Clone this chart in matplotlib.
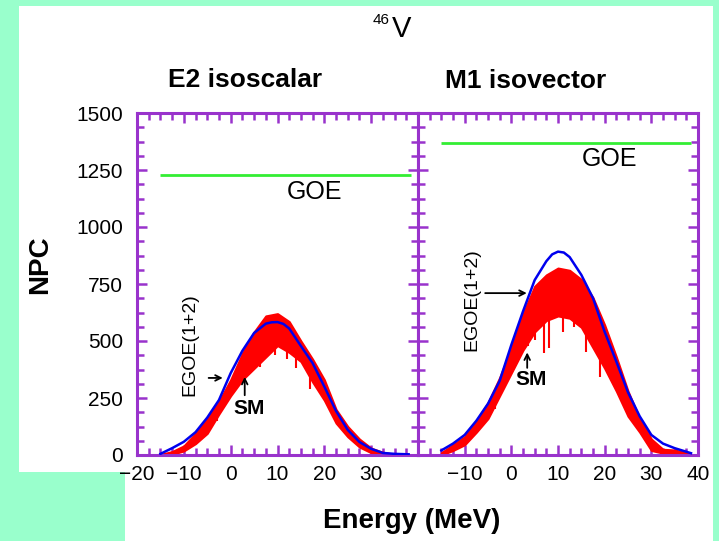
import matplotlib.pyplot as plt
import numpy as np
from matplotlib.patches import Polygon
from matplotlib.ticker import MultipleLocator

plt.rcParams['font.family'] = ['Liberation Sans', 'DejaVu Sans']

W, H = 719, 541
purple = '#9933cc'

# E2 isoscalar panel
e2_x = [-15, -12.5, -10, -7.5, -5, -2.5, 0, 2.5, 5, 7.5, 8.75, 10, 11.25,
        12.5, 15, 17.5, 20, 22.5, 25, 27.5, 30, 32.5, 35, 38]
e2_egoe = [5, 30, 58, 100, 164, 241, 359, 457, 535, 576, 582, 583, 575,
           555, 478, 403, 300, 193, 110, 57, 27, 9, 5, 3]
e2_sm_x = [-14.5, -12.5, -10, -7.5, -5, -2.5, 0, 2.5, 5, 7.5, 10, 12.5,
           15, 17.5, 20, 22.5, 25, 27.5, 30, 32.5, 35]
e2_sm_lo = [0, 3, 18, 50, 95, 180, 260, 330, 380, 430, 480, 450, 410, 320,
            240, 140, 80, 35, 10, 0, 0]
e2_sm_hi = [5, 15, 40, 95, 160, 235, 330, 445, 540, 610, 620, 585, 500,
            420, 330, 200, 125, 70, 30, 12, 3]
e2_dip_x = [-3, 1.5, 4.2, 6.3, 9.5, 12, 14, 17]
e2_dip_y = [150, 300, 360, 386, 440, 420, 380, 290]
e2_goe = 1228

# M1 isovector panel
m1_x = [-15, -12.5, -10, -7.5, -5, -2.5, 0, 2.5, 5, 7.5, 8.75, 10, 11.25,
        12.5, 15, 17.5, 20, 22.5, 25, 27.5, 30, 32.5, 35, 38.5]
m1_egoe = [20, 50, 88, 150, 225, 325, 483, 630, 767, 850, 880, 892, 888,
           868, 790, 688, 540, 410, 275, 170, 88, 50, 30, 8]
m1_sm_x = [-15, -12.5, -10, -7.5, -5, -2.5, 0, 2.5, 5, 7.5, 10, 12.5, 15,
           17.5, 20, 22.5, 25, 27.5, 30, 32.5, 35, 38]
m1_sm_lo = [0, 20, 45, 100, 160, 260, 360, 460, 540, 590, 610, 600, 560,
            470, 380, 280, 170, 100, 20, 8, 8, 0]
m1_sm_hi = [10, 45, 80, 150, 230, 340, 470, 620, 740, 790, 820, 810, 770,
            690, 570, 430, 280, 160, 70, 25, 22, 8]
m1_dip_x = [-3.5, 1, 3.5, 5, 7, 8, 11, 13.5, 16, 19]
m1_dip_y = [200, 400, 480, 504, 447, 470, 540, 560, 450, 340]
m1_goe = 1368

fig = plt.figure(figsize=(W / 100, H / 100), dpi=100, facecolor='#99ffcc')

# white sheet behind the plot
sheet = [(19, 6), (713, 6), (713, 541), (125, 541), (125, 472), (19, 472)]
fig.patches.append(Polygon([(x / W, 1 - y / H) for x, y in sheet],
                           closed=True, facecolor='white', edgecolor='none',
                           transform=fig.transFigure, zorder=-5))

ax1 = fig.add_axes([137 / W, 1 - 455 / H, 281 / W, 342 / H])
ax2 = fig.add_axes([418 / W, 1 - 455 / H, 280 / W, 342 / H])

panels = [
    (ax1, e2_x, e2_egoe, e2_sm_x, e2_sm_lo, e2_sm_hi, e2_dip_x, e2_dip_y, e2_goe),
    (ax2, m1_x, m1_egoe, m1_sm_x, m1_sm_lo, m1_sm_hi, m1_dip_x, m1_dip_y, m1_goe),
]
for ax, x, egoe, sx, lo, hi, dx, dy, goe in panels:
    ax.fill_between(sx, lo, hi, color='red', lw=1.5, edgecolor='red', zorder=2)
    # downward spikes of the SM histogram, joined to the band
    ax.vlines(dx, dy, np.interp(dx, sx, lo) + 15, color='red', lw=1.5, zorder=2)
    ax.plot(x, egoe, color='#0000ee', lw=1.8, zorder=3)
    ax.hlines(goe, -15, 38.5, color='#33ee33', lw=2, zorder=3)
    ax.set_xlim(-20, 40)
    ax.set_ylim(0, 1500)
    ax.xaxis.set_minor_locator(MultipleLocator(2.5))
    ax.yaxis.set_major_locator(MultipleLocator(250))
    ax.yaxis.set_minor_locator(MultipleLocator(62.5))
    ax.tick_params(which='both', direction='in', top=True, right=True,
                   color=purple, width=1.8, labelsize=15)
    ax.tick_params(which='major', length=7.5)
    ax.tick_params(which='minor', length=5)
    ax.tick_params(axis='x', pad=7)
    ax.tick_params(axis='y', pad=10)
    for sp in ax.spines.values():
        sp.set_color(purple)
        sp.set_linewidth(2.2)
    ax.xaxis.set_major_formatter(lambda v, p: f'{v:.0f}'.replace('-', '\u2212'))

ax1.set_xticks([-20, -10, 0, 10, 20, 30])
ax2.set_xticks([-10, 0, 10, 20, 30, 40])
ax2.tick_params(axis='y', labelleft=False)

ax1.text(17.8, 1153, 'GOE', fontsize=18, ha='center', va='center')
ax2.text(21.1, 1298, 'GOE', fontsize=18, ha='center', va='center')

# labels and arrows
ax1.text(-8.8, 482, 'EGOE(1+2)', rotation=90, fontsize=14, ha='center', va='center')
ax1.annotate('', xy=(-1.1, 338), xytext=(-5.3, 338),
             arrowprops=dict(arrowstyle='->', color='black', lw=1.3))
ax1.text(3.9, 206, 'SM', fontsize=15, fontweight='bold', ha='center', va='center')
ax1.annotate('', xy=(3.0, 355), xytext=(3.0, 250),
             arrowprops=dict(arrowstyle='->', color='black', lw=1.3))

ax2.text(-8.4, 680, 'EGOE(1+2)', rotation=90, fontsize=14, ha='center', va='center')
ax2.annotate('', xy=(3.9, 710), xytext=(-6.2, 710),
             arrowprops=dict(arrowstyle='->', color='black', lw=1.3))
ax2.text(4.3, 333, 'SM', fontsize=15, fontweight='bold', ha='center', va='center')
ax2.annotate('', xy=(3.4, 462), xytext=(3.4, 370),
             arrowprops=dict(arrowstyle='->', color='black', lw=1.3))

def px(x, y):
    return x / W, 1 - y / H

fig.text(*px(245, 80), 'E2 isoscalar', fontsize=19, fontweight='bold',
         ha='center', va='center')
fig.text(*px(526, 81), 'M1 isovector', fontsize=19, fontweight='bold',
         ha='center', va='center')
fig.text(*px(402, 29), 'V', fontsize=21, ha='center', va='center')
fig.text(*px(381, 20), '46', fontsize=11, ha='center', va='center')
fig.text(*px(40, 265), 'NPC', fontsize=20, fontweight='bold', rotation=90,
         ha='center', va='center')
fig.text(*px(412, 521), 'Energy (MeV)', fontsize=20, fontweight='bold',
         ha='center', va='center')

fig.savefig('out.png', dpi=100, facecolor=fig.get_facecolor())
